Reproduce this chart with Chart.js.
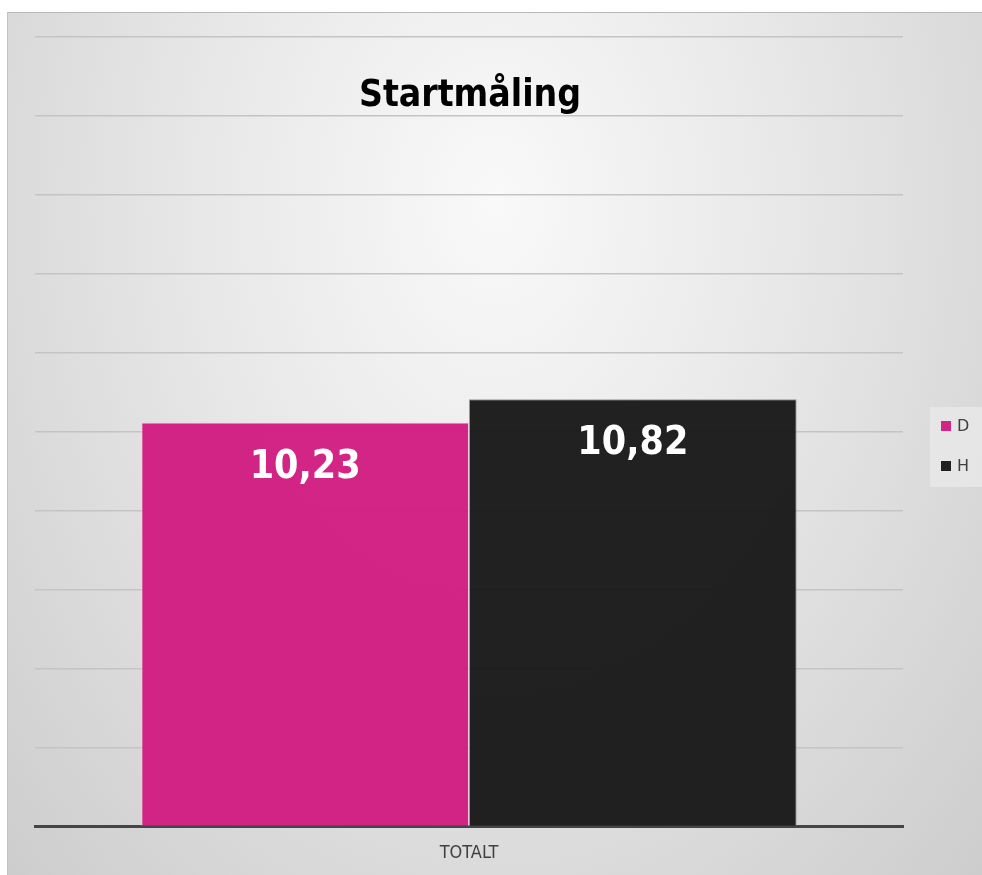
<!DOCTYPE html>
<html>
<head>
<meta charset="utf-8">
<script src="https://cdn.jsdelivr.net/npm/chart.js@4"></script>
<style>
  html, body { margin: 0; padding: 0; background: #ffffff; }
  #frame {
    position: absolute; left: 7px; top: 12px; width: 975px; height: 863px;
    background: radial-gradient(ellipse at 50% 22%, #f9f9f9 0%, #e8e8e8 42%, #cdcdcd 100%);
    border-top: 1px solid #b8b8b8; border-left: 1px solid #c4c4c4;
    box-sizing: border-box;
  }
  #chart { position: absolute; left: 0; top: 0; }
  #legend {
    position: absolute; left: 922px; top: 394px; width: 52px; height: 80px;
    background: rgba(232, 232, 232, 0.85);
    font-family: "DejaVu Sans", sans-serif; font-size: 16px; color: #404040;
  }
  .item { position: absolute; left: 11px; height: 20px; line-height: 20px; }
  .sw { display: inline-block; width: 10px; height: 10px; margin-right: 6px; vertical-align: 0px; }
</style>
</head>
<body>
<div id="frame">
  <canvas id="chart" width="974" height="862"></canvas>
  <div id="legend"></div>
</div>
<script>
const titleText = 'Startmåling';
const categories = ['TOTALT'];
const seriesNames = ['D', 'H'];
const seriesValues = [[10.23], [10.82]];
const seriesColors = ['rgba(208, 28, 128, 0.96)', 'rgba(26, 26, 26, 0.97)'];
const seriesBorders = ['rgba(255, 200, 225, 0.8)', 'rgba(140, 140, 140, 0.9)'];

// legend (html)
const legendEl = document.getElementById('legend');
seriesNames.forEach(function (name, i) {
    const item = document.createElement('div');
    item.className = 'item';
    item.style.top = (9 + i * 40) + 'px';
    item.innerHTML = '<span class="sw" style="background:' + seriesColors[i] + '"></span>' + name;
    legendEl.appendChild(item);
});

// title + value labels drawn on the canvas
const labelsPlugin = {
    id: 'labelsPlugin',
    afterDatasetsDraw(chart) {
        const ctx = chart.ctx;
        const area = chart.chartArea;
        ctx.save();
        ctx.textAlign = 'center';
        ctx.textBaseline = 'middle';
        ctx.fillStyle = '#ffffff';
        ctx.font = 'bold 39px "DejaVu Sans Condensed", "DejaVu Sans", sans-serif';
        chart.data.datasets.forEach(function (ds, i) {
            const meta = chart.getDatasetMeta(i);
            meta.data.forEach(function (bar, j) {
                const txt = ds.data[j].toFixed(2).replace('.', ',');
                ctx.fillText(txt, bar.x, bar.y + 45);
            });
        });
        ctx.fillStyle = '#000000';
        ctx.font = 'bold 37px "DejaVu Sans Condensed", "DejaVu Sans", sans-serif';
        ctx.fillText(titleText, (area.left + area.right) / 2 + 1, area.top + 59);
        ctx.restore();
    }
};

const datasets = seriesNames.map(function (name, i) {
    return {
        label: name,
        data: seriesValues[i],
        backgroundColor: seriesColors[i],
        borderColor: seriesBorders[i],
        borderWidth: 1,
        categoryPercentage: 0.755,
        barPercentage: 1.0
    };
});

const ctx = document.getElementById('chart').getContext('2d');
const chart = new Chart(ctx, {
    type: 'bar',
    data: { labels: categories, datasets: datasets },
    plugins: [labelsPlugin],
    options: {
        responsive: false,
        animation: false,
        layout: { padding: { left: 27, right: 79, top: 24, bottom: -5 } },
        plugins: {
            legend: { display: false },
            title: { display: false },
            tooltip: { enabled: false }
        },
        scales: {
            x: {
                grid: { display: false, drawTicks: false },
                border: { display: true, color: '#454545', width: 3 },
                ticks: {
                    color: '#404040',
                    padding: 16,
                    font: { family: '"DejaVu Sans Condensed", "DejaVu Sans", sans-serif', size: 18 }
                }
            },
            y: {
                min: 0,
                max: 20,
                ticks: { display: false, stepSize: 2 },
                grid: { color: '#c4c4c4', lineWidth: 1.5, drawTicks: false },
                border: { display: false }
            }
        }
    }
});
</script>
</body>
</html>
